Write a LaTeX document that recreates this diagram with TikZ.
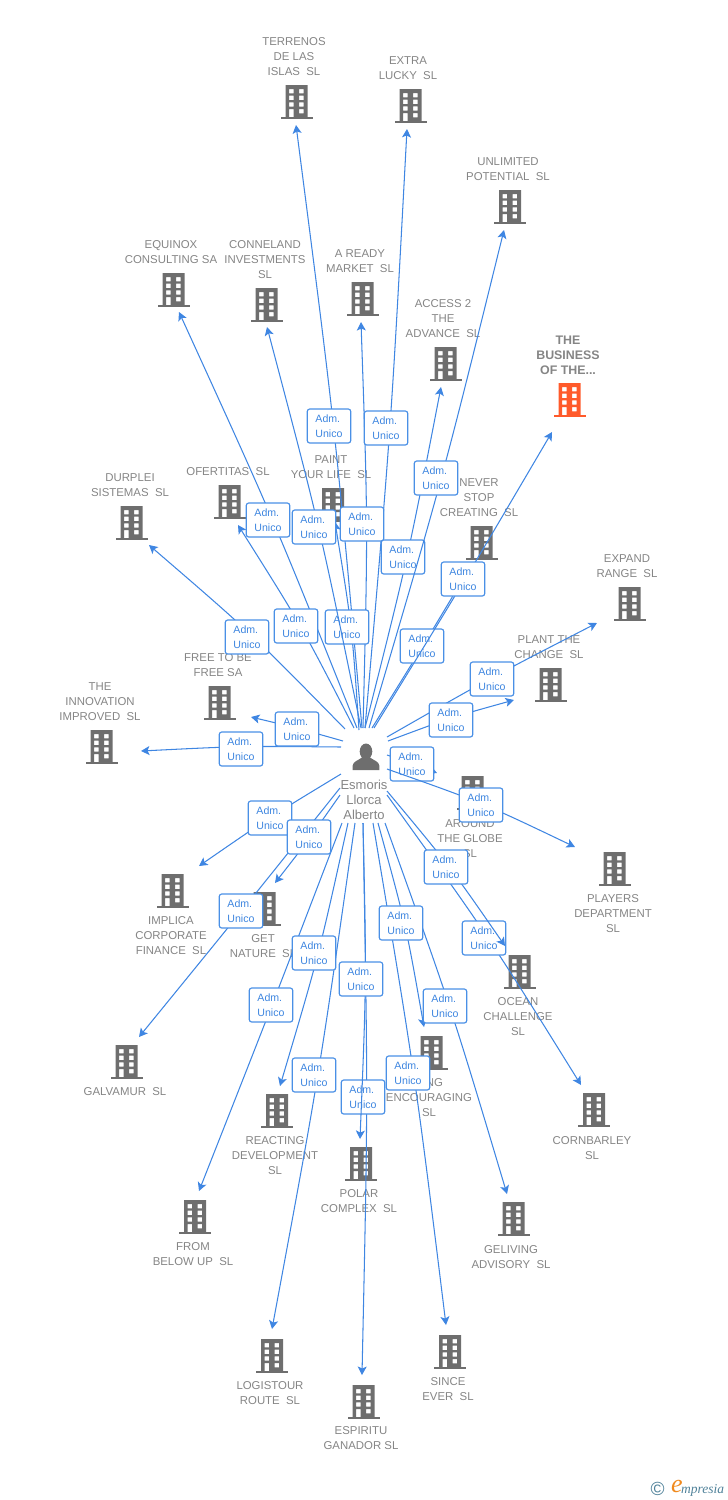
\documentclass[tikz,border=0pt]{standalone}
\usepackage{fontspec}
\setmainfont{Liberation Sans}
\newfontfamily\logofont{Liberation Serif}
\usetikzlibrary{arrows.meta}
\definecolor{lbl}{HTML}{858585}
\definecolor{bld}{HTML}{6E6E6E}
\definecolor{hot}{HTML}{FF5A2B}
\definecolor{lnkc}{HTML}{3F86E2}
\definecolor{boxc}{HTML}{4A90E6}
\definecolor{boxt}{HTML}{3E86E0}
\definecolor{logog}{HTML}{4F8199}
\definecolor{logoo}{HTML}{F08A1E}
\tikzset{
  x=1pt,y=-1pt,
  entlabel/.style={text=lbl,align=center,inner sep=0pt,yshift=-0.8pt,font=\fontsize{11.4}{15}\selectfont},
  hotlabel/.style={text=lbl,align=center,inner sep=0pt,yshift=-0.8pt,font=\fontsize{12.4}{15}\selectfont\bfseries},
  bldarea/.style={minimum width=32pt,minimum height=35pt,inner sep=0pt},
  bldg/.pic={
    \fill[pic actions,even odd rule] (-11,-17) rectangle (11,15)
      (-7.5,-13) rectangle (-2.8,-8.7) (2.5,-13) rectangle (7.2,-8.7)
      (-7.5,-6.3) rectangle (-2.8,-2) (2.5,-6.3) rectangle (7.2,-2)
      (-7.5,0.3) rectangle (-2.8,4.7) (2.5,0.3) rectangle (7.2,4.7)
      (-7.5,7) rectangle (-2.8,15) (2.5,7) rectangle (7.2,11.3);
    \fill[pic actions] (-16,14.6) rectangle (16,17.2);
  },
  conn/.style={draw=lnkc,line width=1.05pt,-{Stealth[length=8.5pt,width=9pt,inset=2pt]}},
  admbox/.style={draw=boxc,line width=1.15pt,rounded corners=2.5pt,fill=white,text=boxt,
    minimum width=43.5pt,minimum height=34pt,inner sep=0pt,align=left,
    font=\fontsize{10.6}{15}\selectfont},
}
\newcommand{\entity}[7][bld]{%
  \node[bldarea] (b#2) at (#3,#4) {};
  \pic[fill=#1] at (#3,#4) {bldg};
  \node[entlabel] (l#2) at (#5,#6) {#7};
}
\newcommand{\lnk}[7]{%
  \coordinate (s#1) at (#2,#3);
  \coordinate (t#1) at (#4,#5);
  \coordinate (c#1) at ({(#2+#4)/2+#6},{(#3+#5)/2+#7});
  \draw[conn] (s#1) .. controls (c#1) .. (t#1);
}
\newcommand{\adm}[3]{\node[admbox] (a#1) at (#2,#3) {Adm.\\Unico};}
\begin{document}
\begin{tikzpicture}
\useasboundingbox (0,0) rectangle (728,1500);
% entities
\entity{terrenos}{296.5}{102}{294}{56}{TERRENOS\\DE LAS\\ISLAS~~SL}
\entity{extra}{410.5}{106}{408}{67.5}{EXTRA\\LUCKY~~SL}
\entity{unlimited}{510}{207}{508}{168.5}{UNLIMITED\\POTENTIAL~~SL}
\entity{equinox}{173.5}{290}{171}{251.5}{EQUINOX\\CONSULTING SA}
\entity{conneland}{266.5}{305}{265}{259}{CONNELAND\\INVESTMENTS\\SL}
\entity{aready}{362.5}{299}{360}{260.5}{A READY\\MARKET~~SL}
\entity{access}{445.5}{364}{443}{318}{ACCESS 2\\THE\\ADVANCE~~SL}
\node[bldarea] (bbusiness) at (569.5,400) {};
\pic[fill=hot] at (569.5,400) {bldg};
\node[hotlabel] (lbusiness) at (568,354) {THE\\BUSINESS\\OF THE...};
\entity{never}{481.5}{543}{479}{497}{NEVER\\STOP\\CREATING~~SL}
\entity{expand}{629.5}{604}{627}{565.5}{EXPAND\\RANGE~~SL}
\entity{plant}{550.5}{685}{549}{646.5}{PLANT THE\\CHANGE~~SL}
\entity{ofertitas}{229.5}{502}{228}{471}{OFERTITAS~~SL}
\entity{paint}{333}{505}{331}{466.5}{PAINT\\YOUR LIFE~~SL}
\entity{durplei}{131.5}{523}{130}{484.5}{DURPLEI\\SISTEMAS~~SL}
\entity{free}{219.5}{703}{218}{664.5}{FREE TO BE\\FREE SA}
\entity{innovation}{101.5}{747}{100}{701}{THE\\INNOVATION\\IMPROVED~~SL}
\entity{around}{472.5}{793}{470}{838}{AROUND\\THE GLOBE\\SL}
\entity{players}{614.5}{869}{613}{913}{PLAYERS\\DEPARTMENT\\SL}
\entity{implica}{172.5}{891}{171}{935}{IMPLICA\\CORPORATE\\FINANCE~~SL}
\entity{get}{264.5}{909}{263}{945.5}{GET\\NATURE~~SL}
\entity{ocean}{519.5}{972}{518}{1016}{OCEAN\\CHALLENGE\\SL}
\entity{galvamur}{126.5}{1062}{125}{1091}{GALVAMUR~~SL}
\entity{king}{431.5}{1053}{429}{1097}{KING\\ENCOURAGING\\SL}
\entity{cornbarley}{594}{1110}{592}{1147.5}{CORNBARLEY\\SL}
\entity{reacting}{277}{1111}{275}{1155}{REACTING\\DEVELOPMENT\\SL}
\entity{polar}{361}{1164}{359}{1200.5}{POLAR\\COMPLEX~~SL}
\entity{below}{195}{1217}{193}{1253.5}{FROM\\BELOW UP~~SL}
\entity{geliving}{513.5}{1219}{511}{1256.5}{GELIVING\\ADVISORY~~SL}
\entity{logistour}{272}{1356}{270}{1392.5}{LOGISTOUR\\ROUTE~~SL}
\entity{since}{450}{1352}{448}{1388.5}{SINCE\\EVER~~SL}
\entity{espiritu}{363.5}{1402}{361}{1437.5}{ESPIRITU\\GANADOR SL}
% connectors and their boxes, in stacking order
\lnk{terrenos}{362}{728}{296}{125}{6}{0}
\lnk{extra}{365}{728}{407}{129}{5}{0}
\lnk{equinox}{357}{728}{179}{312}{6}{0}
\lnk{aready}{363}{728}{361}{322}{6}{0}
\lnk{access}{365}{728}{441}{387}{5}{0}
\lnk{ofertitas}{354}{728}{238}{525}{6}{0}
\lnk{paint}{359}{730}{335}{522}{5}{0}
\lnk{durplei}{345}{729}{149}{545}{3}{-5}
\lnk{never}{372}{728}{472}{564}{1}{0}
\lnk{expand}{387}{737}{597}{623}{0}{-3}
\lnk{plant}{388}{741}{514}{700}{0}{-3}
\lnk{free}{343}{741}{251}{717}{0}{-1}
\lnk{innovation}{341}{747}{141}{751}{0}{-3}
\lnk{around}{387}{755}{437}{773}{0}{-1}
\lnk{implica}{341}{774}{199}{866}{0}{-3}
\lnk{get}{340}{795}{275}{883}{1}{1}
\lnk{galvamur}{340}{788}{139}{1037}{1}{0}
\lnk{king}{378}{823}{424}{1027}{5}{0}
\lnk{cornbarley}{387}{795}{581}{1085}{5}{-3}
\lnk{reacting}{348}{823}{280}{1086}{5}{0}
\lnk{below}{342}{823}{199}{1191}{1}{0}
\lnk{geliving}{385}{823}{507}{1194}{5.5}{0}
\lnk{logistour}{355}{823}{272}{1329}{5.5}{0}
\lnk{since}{373}{823}{446}{1325}{5.5}{0}
\lnk{espiritu}{363}{823}{362}{1375}{5.5}{0}
\adm{terrenos}{329}{426}
\adm{extra}{386}{428}
\adm{equinox}{268}{520}
\adm{aready}{362}{524}
\adm{access}{403}{557}
\lnk{unlimited}{369}{728}{504}{230}{6}{0}
\adm{unlimited}{436}{478}
\adm{ofertitas}{296}{626}
\adm{paint}{347}{627}
\lnk{conneland}{361}{728}{267}{327}{6}{0}
\adm{conneland}{314}{527}
\adm{durplei}{247}{637}
\adm{never}{422}{646}
\lnk{business}{374}{728}{552}{432}{2}{0}
\adm{business}{463}{579}
\adm{expand}{492}{679}
\adm{plant}{451}{720}
\adm{free}{297}{729}
\adm{innovation}{241}{749}
\adm{around}{412}{764}
\lnk{players}{387}{769}{575}{847}{2}{-5}
\adm{players}{481}{805}
\adm{implica}{270}{818}
\adm{get}{309}{837}
\adm{cornbarley}{484}{938}
\lnk{ocean}{387}{791}{505}{946}{4}{-2}
\adm{ocean}{446}{867}
\adm{galvamur}{241}{911}
\adm{king}{401}{923}
\adm{reacting}{314}{953}
\adm{below}{271}{1005}
\adm{geliving}{445}{1006}
\adm{logistour}{314}{1075}
\adm{since}{408}{1073}
\adm{espiritu}{363}{1097}
\lnk{polar}{363}{823}{360}{1139}{5}{0}
\adm{polar}{361}{979}
% person
\fill[bld] (366,751.5) ellipse (6.3 and 8);
\fill[bld] (352.7,770) -- (352.7,765.5) .. controls (353,761.5) and (358,760.5) .. (362,757.5)
  -- (370,757.5) .. controls (374,760.5) and (379,761.5) .. (379.3,765.5) -- (379.3,770) -- cycle;
\node[text=lbl,align=center,inner sep=0pt,font=\fontsize{13}{15}\selectfont] (person) at (364,800) {Esmoris\\Llorca\\Alberto};
% logo
\node[inner sep=0pt,text=logog,font=\fontsize{19}{19}\selectfont] (logoc) at (657.5,1488.5) {©};
\node[inner sep=0pt,text=logoo,font=\logofont\itshape\fontsize{26}{26}\selectfont] (logoe) at (677,1486) {e};
\node[inner sep=0pt,anchor=base west,text=logog,font=\logofont\itshape\fontsize{13.5}{14}\selectfont] (logot) at (681,1493) {mpresia};
\end{tikzpicture}
\end{document}
